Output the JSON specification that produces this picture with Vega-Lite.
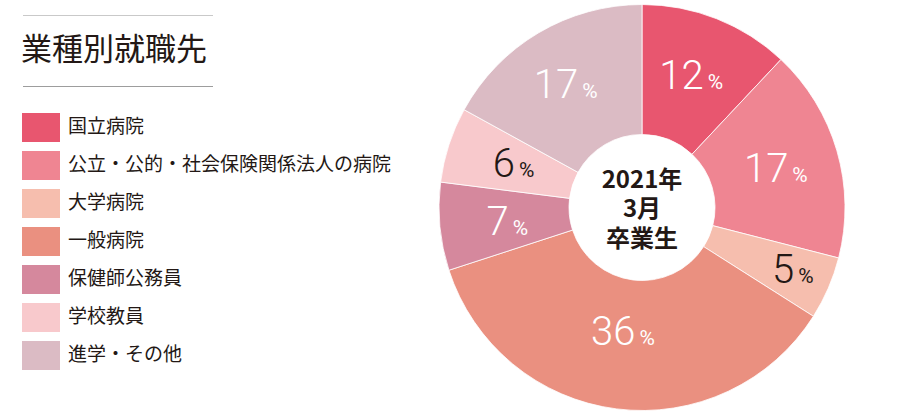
{
  "$schema": "https://vega.github.io/schema/vega-lite/v6.json",
  "padding": 0,
  "spacing": 0,
  "background": "white",
  "config": {"view": {"stroke": null}},
  "datasets": {
    "d": [
      {"cat": "国立病院", "pct": 12, "order": 1},
      {"cat": "公立・公的・社会保険関係法人の病院", "pct": 17, "order": 2},
      {"cat": "大学病院", "pct": 5, "order": 3},
      {"cat": "一般病院", "pct": 36, "order": 4},
      {"cat": "保健師公務員", "pct": 7, "order": 5},
      {"cat": "学校教員", "pct": 6, "order": 6},
      {"cat": "進学・その他", "pct": 17, "order": 7}
    ]
  },
  "hconcat": [
    {
      "width": 437,
      "height": 415,
      "layer": [
        {
          "data": {"values": [{}]},
          "mark": {"type": "rule", "strokeWidth": 1.2, "color": "#c9c9c9"},
          "encoding": {"x": {"value": 23}, "x2": {"value": 213}, "y": {"value": 15.5}}
        },
        {
          "data": {"values": [{}]},
          "mark": {"type": "rule", "strokeWidth": 1.2, "color": "#9d9d9d"},
          "encoding": {"x": {"value": 23}, "x2": {"value": 213}, "y": {"value": 86.5}}
        },
        {
          "data": {"values": [{"t": "業種別就職先"}]},
          "mark": {"type": "text", "align": "left", "baseline": "middle", "font": "Noto Sans CJK JP", "fontSize": 31, "color": "#231815"},
          "encoding": {"x": {"value": 21}, "y": {"value": 51}, "text": {"field": "t"}}
        },
        {
          "data": {"name": "d"},
          "mark": {"type": "point", "shape": "M-1,-0.763H1V0.763H-1Z", "size": 1444, "filled": true, "opacity": 1, "strokeWidth": 0},
          "encoding": {
            "x": {"value": 41},
            "y": {"field": "order", "type": "quantitative", "scale": {"domain": [-2.355, 8.566], "reverse": true, "nice": false, "zero": false}, "axis": null},
            "color": {"field": "cat", "type": "nominal", "scale": {"domain": ["国立病院", "公立・公的・社会保険関係法人の病院", "大学病院", "一般病院", "保健師公務員", "学校教員", "進学・その他"], "range": ["#E8566F", "#EF8592", "#F6BEAE", "#EA9080", "#D5889D", "#F8C9CC", "#DBBBC4"]}, "legend": null}
          }
        },
        {
          "data": {"name": "d"},
          "mark": {"type": "text", "align": "left", "baseline": "middle", "font": "Noto Sans CJK JP", "fontSize": 19, "color": "#231815"},
          "encoding": {
            "x": {"value": 68},
            "y": {"field": "order", "type": "quantitative", "scale": {"domain": [-2.355, 8.566], "reverse": true, "nice": false, "zero": false}, "axis": null},
            "text": {"field": "cat"}
          }
        }
      ]
    },
    {
      "width": 406,
      "height": 415,
      "data": {"name": "d"},
      "layer": [
        {
          "mark": {"type": "arc", "outerRadius": 203, "innerRadius": 73, "stroke": "white", "strokeWidth": 0.8},
          "encoding": {
            "theta": {"field": "pct", "type": "quantitative", "stack": true},
            "order": {"field": "order", "type": "quantitative"},
            "color": {"field": "cat", "type": "nominal", "scale": {"domain": ["国立病院", "公立・公的・社会保険関係法人の病院", "大学病院", "一般病院", "保健師公務員", "学校教員", "進学・その他"], "range": ["#E8566F", "#EF8592", "#F6BEAE", "#EA9080", "#D5889D", "#F8C9CC", "#DBBBC4"]}, "legend": null}
          }
        },
        {
          "mark": {"type": "text", "radius": {"expr": "datum.pct > 30 ? 124 : datum.pct < 6 ? 156 : 143"}, "align": "right", "baseline": "alphabetic", "dx": 9, "dy": 14, "font": "Roboto", "fontWeight": 300, "fontSize": 40},
          "encoding": {
            "theta": {"field": "pct", "type": "quantitative", "stack": true},
            "order": {"field": "order", "type": "quantitative"},
            "text": {"field": "pct", "type": "quantitative"},
            "color": {"condition": {"test": "datum.cat === '大学病院' || datum.cat === '学校教員'", "value": "#231815"}, "value": "#ffffff"}
          }
        },
        {
          "mark": {"type": "text", "radius": {"expr": "datum.pct > 30 ? 124 : datum.pct < 6 ? 156 : 143"}, "align": "left", "baseline": "alphabetic", "dx": 13, "dy": 14, "font": "Roboto", "fontWeight": 400, "fontSize": 21},
          "encoding": {
            "theta": {"field": "pct", "type": "quantitative", "stack": true},
            "order": {"field": "order", "type": "quantitative"},
            "text": {"value": "%"},
            "color": {"condition": {"test": "datum.cat === '大学病院' || datum.cat === '学校教員'", "value": "#231815"}, "value": "#ffffff"}
          }
        },
        {
          "data": {"values": [{"t": ["2021年", "3月", "卒業生"]}]},
          "mark": {"type": "text", "align": "center", "baseline": "middle", "dy": -27, "lineHeight": 29.5, "font": "Noto Sans CJK JP", "fontWeight": "bold", "fontSize": 24, "color": "#231815"},
          "encoding": {"text": {"field": "t"}}
        }
      ]
    }
  ]
}
